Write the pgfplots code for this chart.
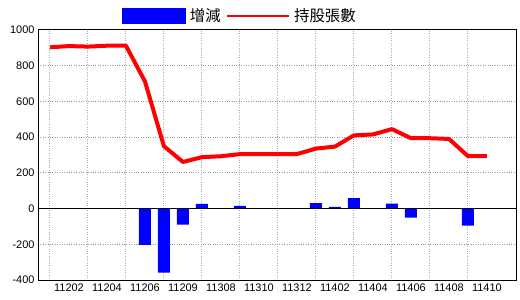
\documentclass[border=0pt]{standalone}
\usepackage{fontspec}
\setmainfont{Liberation Sans}
\newfontfamily\cjk{Noto Sans CJK TC}
\usepackage{pgfplots}
\pgfplotsset{compat=1.18}
\definecolor{vgrid}{RGB}{150,180,200}
\definecolor{hgrid}{RGB}{150,150,150}
\definecolor{myred}{RGB}{255,0,0}
\begin{document}
\begin{tikzpicture}
\path (0,0) rectangle (520bp,300bp);
\begin{axis}[
  at={(38bp,20bp)}, anchor=south west,
  scale only axis, width=478bp, height=250bp,
  xmin=-0.63, xmax=24.53, ymin=-400, ymax=1000,
  ytick={-400,-200,0,200,400,600,800,1000},
  xtick={1,3,5,7,9,11,13,15,17,19,21,23},
  xticklabels={11202,11204,11206,11209,11308,11310,11312,11402,11404,11406,11408,11410},
  minor xtick={0,2,4,6,8,10,12,14,16,18,20,22},
  xminorgrids=true, ymajorgrids=true,
  minor grid style={vgrid, dotted, line width=1bp},
  major grid style={hgrid, dotted, line width=1bp},
  major tick length=0pt, minor tick length=0pt,
  axis line style={black, line width=1bp},
  /pgf/number format/assume math mode=true,
  /pgf/number format/1000 sep={},
  tick label style={font=\fontsize{11}{12}\selectfont},
  legend columns=2,
  legend style={draw=none, fill=none, inner sep=0pt, outer sep=0pt,
    at={(0.1757,1.056)}, anchor=west,
    font=\cjk\fontsize{15.5}{16}\selectfont,
    nodes={inner xsep=4bp},
    /tikz/every even column/.append style={column sep=2bp}},
]
\addplot[ybar, bar width=12bp, bar shift=0pt, fill=blue, draw=none,
  legend image code/.code={\fill[blue] (0bp,-8bp) rectangle (64bp,8bp);}]
  coordinates {
  (0,0) (1,0) (2,0) (3,0) (4,0) (5,-204) (6,-359) (7,-90) (8,26) (9,0)
  (10,15) (11,0) (12,0) (13,0) (14,31) (15,9) (16,59) (17,0) (18,28)
  (19,-51) (20,0) (21,0) (22,-96) (23,0)};
\addlegendentry{增減}
\addplot[black, line width=1bp, forget plot] coordinates {(-0.63,0) (24.53,0)};
\addplot[myred, line width=4bp, line join=round,
  legend image code/.code={\draw[draw=myred,line width=1.2bp] (0bp,0bp) -- (62bp,0bp);}]
  coordinates {
  (0,903) (1,910) (2,907) (3,912) (4,912) (5,712) (6,349) (7,261) (8,288)
  (9,293) (10,305) (11,305) (12,305) (13,305) (14,336) (15,347) (16,410)
  (17,415) (18,445) (19,394) (20,394) (21,390) (22,294) (23,294)};
\addlegendentry{持股張數}
\end{axis}
\end{tikzpicture}
\end{document}
